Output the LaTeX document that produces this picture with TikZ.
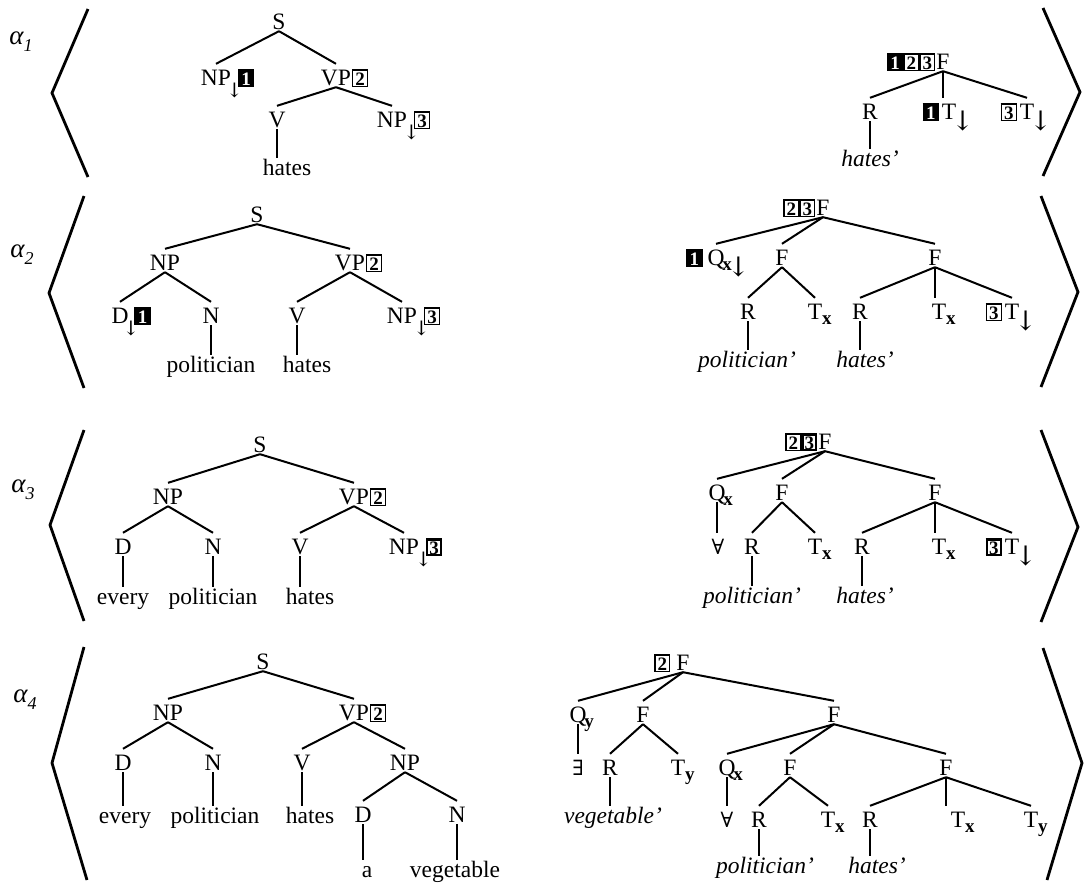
\documentclass[tikz,border=0pt]{standalone}
\usepackage{fontspec}
\setmainfont{Liberation Serif}
\newfontfamily\symf{DejaVu Serif}
\newcommand\msz{\fontsize{23.5}{27}\selectfont}
\newcommand\bxdigit[1]{\makebox[11.5pt]{\rule{0pt}{13.5pt}\fontsize{19}{19}\selectfont\bfseries #1}}
\newcommand\bxn[1]{{\setlength\fboxsep{1pt}\setlength\fboxrule{1.3pt}\fbox{\bxdigit{#1}}}}
\newcommand\bxk[1]{{\setlength\fboxsep{1pt}\setlength\fboxrule{1.3pt}\fcolorbox{black}{black}{\color{white}\bxdigit{#1}}}}
\newcommand\bxt[1]{{\setlength\fboxsep{0pt}\setlength\fboxrule{2.3pt}\fbox{\bxdigit{#1}}}}
\newcommand\dnarr{\raisebox{-11pt}{\makebox[13pt]{\fontsize{27}{27}\selectfont\symf ↓}}}
\newcommand\sdnarr{\raisebox{-12pt}{\makebox[5pt]{\fontsize{20}{20}\selectfont\symf ↓}}}
\newcommand\subl[1]{\raisebox{-5pt}{\fontsize{19}{19}\selectfont\bfseries #1}}
\newcommand\alab[1]{{\fontsize{27}{30}\selectfont\itshape α\raisebox{-7pt}{\fontsize{18}{18}\selectfont #1}}}
\begin{document}
\begin{tikzpicture}[x=1pt,y=-1pt,
  every node/.style={font=\msz},
  cat/.style={anchor=base, inner sep=2pt, text height=19pt, text depth=0pt},
  word/.style={anchor=base, inner sep=2pt, text height=15pt, text depth=5pt},
  wordi/.style={word, font=\msz\itshape},
  sym/.style={cat, font=\fontsize{21}{24}\selectfont\symf},
  br/.style={line width=2pt},
  vt/.style={line width=1.3pt},
  brk/.style={line width=2.8pt},
  lab/.style={anchor=center, inner sep=0pt}]
\useasboundingbox (0,0) rectangle (1085,884);

% ---------- labels alpha ----------
\node[lab] (al1) at (21,42) {\alab{1}};
\node[lab] (al2) at (22,255) {\alab{2}};
\node[lab] (al3) at (23,490) {\alab{3}};
\node[lab] (al4) at (25,700) {\alab{4}};

% ---------- brackets ----------
\draw[brk] (88,9) -- (52,93) -- (88,177);
\draw[brk] (84,196) -- (49,293) -- (84,388);
\draw[brk] (84,430) -- (50,525) -- (84,621);
\draw[brk] (84,647) -- (52,763) -- (87,880);
\draw[brk] (1043,8) -- (1080,92) -- (1043,176);
\draw[brk] (1041,196) -- (1078,292) -- (1041,387);
\draw[brk] (1041,430) -- (1078,527) -- (1041,622);
\draw[brk] (1043,648) -- (1082,763) -- (1047,880);

% ---------- row 1 left ----------
\node[cat] (a1S) at (279,29) {S};
\node[cat] (a1NP) at (216,85) {NP\rlap{\kern1pt\sdnarr\kern1pt\bxk{1}}};
\node[cat] (a1VP) at (336,85) {VP\rlap{\kern1pt\bxn{2}}};
\node[cat] (a1V) at (277,127) {V};
\node[cat] (a1NPb) at (392,127) {NP\rlap{\kern2pt\sdnarr\kern0pt\bxn{3}}};
\node[word] (a1hates) at (287,175) {hates};

% ---------- row 1 right ----------
\node[cat] (b1F) at (943,69) {\llap{\bxk{1}\bxn{2}\bxn{3}\kern1pt}F};
\node[cat] (b1R) at (870,119) {R};
\node[cat] (b1T1) at (949,119) {\llap{\bxk{1}\kern3pt}T\rlap{\dnarr}};
\node[cat] (b1T2) at (1027,119) {\llap{\bxn{3}\kern3pt}T\rlap{\dnarr}};
\node[wordi] (b1hates) at (870,166) {hates'};

% ---------- row 2 left ----------
\node[cat] (a2S) at (257,222) {S};
\node[cat] (a2NP) at (165,270) {NP};
\node[cat] (a2VP) at (350,270) {VP\rlap{\kern1pt\bxn{2}}};
\node[cat] (a2D) at (120,323) {D\rlap{\sdnarr\kern1pt\bxk{1}}};
\node[cat] (a2N) at (211,323) {N};
\node[cat] (a2V) at (297,323) {V};
\node[cat] (a2NPb) at (402,323) {NP\rlap{\kern2pt\sdnarr\kern0pt\bxn{3}}};
\node[word] (a2pol) at (211,372) {politician};
\node[word] (a2hates) at (307,372) {hates};

% ---------- row 2 right ----------
\node[cat] (b2F) at (823,215) {\llap{\bxn{2}\bxn{3}\kern1pt}F};
\node[cat] (b2Q) at (716,265) {\llap{\bxk{1}\kern5pt}Q\rlap{\kern-2pt\subl{x}\dnarr}};
\node[cat] (b2F1) at (782,265) {F};
\node[cat] (b2F2) at (935,265) {F};
\node[cat] (b2R1) at (748,319) {R};
\node[cat] (b2T1) at (815,319) {T\rlap{\subl{x}}};
\node[cat] (b2R2) at (860,319) {R};
\node[cat] (b2T2) at (939,319) {T\rlap{\subl{x}}};
\node[cat] (b2T3) at (1012,319) {\llap{\bxn{3}\kern3pt}T\rlap{\dnarr}};
\node[wordi] (b2pol) at (747,367) {politician'};
\node[wordi] (b2hates) at (865,367) {hates'};

% ---------- row 3 left ----------
\node[cat] (a3S) at (260,452) {S};
\node[cat] (a3NP) at (168,504) {NP};
\node[cat] (a3VP) at (354,504) {VP\rlap{\kern1pt\bxn{2}}};
\node[cat] (a3D) at (123,554) {D};
\node[cat] (a3N) at (213,554) {N};
\node[cat] (a3V) at (300,554) {V};
\node[cat] (a3NPb) at (404,554) {NP\rlap{\kern2pt\sdnarr\kern0pt\bxt{3}}};
\node[word] (a3every) at (123,604) {every};
\node[word] (a3pol) at (213,604) {politician};
\node[word] (a3hates) at (310,604) {hates};

% ---------- row 3 right ----------
\node[cat] (b3F) at (825,449) {\llap{\bxn{2}\bxt{3}\kern1pt}F};
\node[cat] (b3Q) at (717,500) {Q\rlap{\kern-2pt\subl{x}}};
\node[cat] (b3F1) at (782,500) {F};
\node[cat] (b3F2) at (935,500) {F};
\node[sym] (b3A) at (718,554) {∀};
\node[cat] (b3R1) at (752,554) {R};
\node[cat] (b3T1) at (815,554) {T\rlap{\subl{x}}};
\node[cat] (b3R2) at (862,554) {R};
\node[cat] (b3T2) at (939,554) {T\rlap{\subl{x}}};
\node[cat] (b3T3) at (1012,554) {\llap{\bxt{3}\kern3pt}T\rlap{\dnarr}};
\node[wordi] (b3pol) at (752,603) {politician'};
\node[wordi] (b3hates) at (865,603) {hates'};

% ---------- row 4 left ----------
\node[cat] (a4S) at (263,669) {S};
\node[cat] (a4NP) at (168,720) {NP};
\node[cat] (a4VP) at (354,720) {VP\rlap{\kern1pt\bxn{2}}};
\node[cat] (a4D) at (123,770) {D};
\node[cat] (a4N) at (213,770) {N};
\node[cat] (a4V) at (302,770) {V};
\node[cat] (a4NP2) at (405,770) {NP};
\node[word] (a4every) at (125,823) {every};
\node[word] (a4pol) at (215,823) {politician};
\node[word] (a4hates) at (310,823) {hates};
\node[cat] (a4D2) at (363,822) {D};
\node[cat] (a4N2) at (457,822) {N};
\node[word] (a4a) at (367,877) {a};
\node[word] (a4veg) at (455,877) {vegetable};

% ---------- row 4 right ----------
\node[cat] (b4F) at (683,670) {\llap{\bxn{2}\kern6pt}F};
\node[cat] (b4Qy) at (578,722) {Q\rlap{\kern-2pt\subl{y}}};
\node[cat] (b4F1) at (643,722) {F};
\node[cat] (b4F2) at (834,722) {F};
\node[sym] (b4E) at (578,775) {∃};
\node[cat] (b4R1) at (610,775) {R};
\node[cat] (b4Ty) at (678,775) {T\rlap{\subl{y}}};
\node[cat] (b4Qx) at (727,775) {Q\rlap{\kern-2pt\subl{x}}};
\node[cat] (b4F3) at (790,775) {F};
\node[cat] (b4F4) at (946,775) {F};
\node[wordi] (b4veg) at (613,823) {vegetable'};
\node[sym] (b4A) at (727,827) {∀};
\node[cat] (b4R2) at (759,827) {R};
\node[cat] (b4Tx) at (828,827) {T\rlap{\subl{x}}};
\node[cat] (b4R3) at (870,827) {R};
\node[cat] (b4Tx2) at (958,827) {T\rlap{\subl{x}}};
\node[cat] (b4Ty2) at (1031,827) {T\rlap{\subl{y}}};
\node[wordi] (b4pol) at (765,873) {politician'};
\node[wordi] (b4hates) at (877,873) {hates'};

% ---------- slanted branches ----------
\foreach \p/\c in {a1S/a1NP, a1S/a1VP, a1VP/a1V, a1VP/a1NPb,
  b1F/b1R, b1F/b1T2,
  a2S/a2NP, a2S/a2VP, a2NP/a2D, a2NP/a2N, a2VP/a2V, a2VP/a2NPb,
  b2F/b2Q, b2F/b2F1, b2F/b2F2, b2F1/b2R1, b2F1/b2T1, b2F2/b2R2, b2F2/b2T3,
  a3S/a3NP, a3S/a3VP, a3NP/a3D, a3NP/a3N, a3VP/a3V, a3VP/a3NPb,
  b3F/b3Q, b3F/b3F1, b3F/b3F2, b3F1/b3R1, b3F1/b3T1, b3F2/b3R2, b3F2/b3T3,
  a4S/a4NP, a4S/a4VP, a4NP/a4D, a4NP/a4N, a4VP/a4V, a4VP/a4NP2, a4NP2/a4D2, a4NP2/a4N2,
  b4F/b4Qy, b4F/b4F1, b4F/b4F2, b4F1/b4R1, b4F1/b4Ty, b4F2/b4Qx, b4F2/b4F3, b4F2/b4F4,
  b4F3/b4R2, b4F3/b4Tx, b4F4/b4R3, b4F4/b4Ty2}
  \draw[br] (\p.south) -- (\c.north);

% ---------- vertical branches ----------
\foreach \p/\c in {a1V/a1hates, b1F/b1T1, b1R/b1hates,
  a2N/a2pol, a2V/a2hates, b2F2/b2T2, b2R1/b2pol, b2R2/b2hates,
  a3D/a3every, a3N/a3pol, a3V/a3hates, b3Q/b3A, b3F2/b3T2, b3R1/b3pol, b3R2/b3hates,
  a4D/a4every, a4N/a4pol, a4V/a4hates, a4D2/a4a, a4N2/a4veg,
  b4Qy/b4E, b4R1/b4veg, b4Qx/b4A, b4F4/b4Tx2, b4R2/b4pol, b4R3/b4hates}
  \draw[vt] (\p.south) -- (\p.south |- \c.north);
\end{tikzpicture}
\end{document}
